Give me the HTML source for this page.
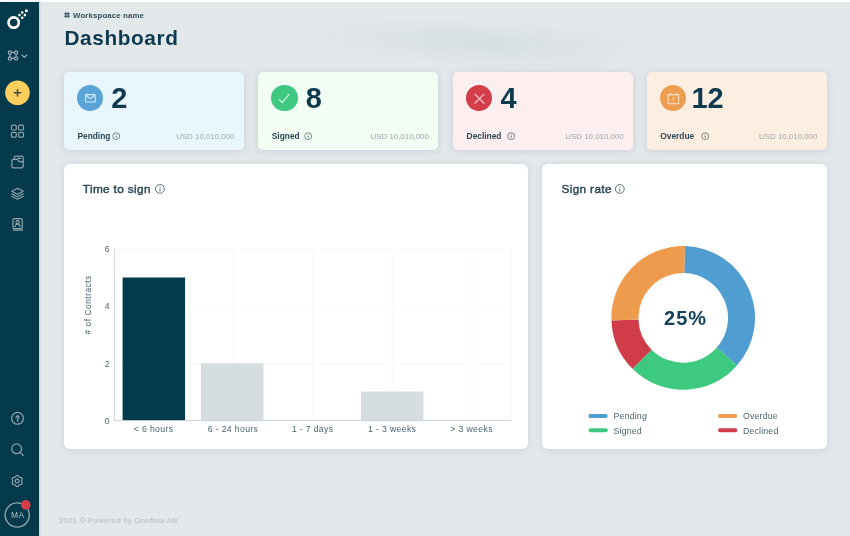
<!DOCTYPE html>
<html><head><meta charset="utf-8">
<style>
*{margin:0;padding:0;box-sizing:border-box}
html,body{width:850px;height:536px;overflow:hidden}
#wrap{position:absolute;left:0;top:0;width:850px;height:536px;filter:blur(0.45px)}
body{position:relative;background:#e3e8eb;font-family:"Liberation Sans",Arial,sans-serif;color:#0d3547}
.topw{position:absolute;left:0;top:0;width:850px;height:2px;background:#fff}
.bgblur{position:absolute;left:300px;top:18px;width:360px;height:50px;border-radius:50%;background:radial-gradient(ellipse at center,rgba(200,210,215,0.45),rgba(200,210,215,0) 70%);transform:rotate(3deg)}
.side{position:absolute;left:0;top:2px;width:38.6px;height:534px;background:#053a4c;box-shadow:1px 0 2px rgba(10,40,55,0.12)}
.side svg{position:absolute;left:0;top:0}
.abs{position:absolute;white-space:nowrap;z-index:2}
.ws{left:73px;top:10.8px;font-size:7.9px;font-weight:bold;color:#34505d;letter-spacing:0.1px}
.title{left:64.5px;top:25.5px;font-size:20.8px;font-weight:bold;color:#0e3a4e;letter-spacing:0.6px}
.card{position:absolute;top:72px;width:180px;height:78px;border-radius:5px;box-shadow:0 1px 8px rgba(20,50,65,0.13)}
.ic{position:absolute;left:12.7px;top:12.7px;width:26.6px;height:26.6px;border-radius:50%}
.ic svg{position:absolute;left:0;top:0}
.num{position:absolute;left:47.3px;top:11.3px;font-size:29px;font-weight:bold;color:#0e3a4f;line-height:30px;letter-spacing:0px}
.lab{position:absolute;left:13.4px;top:59.3px;font-size:8.4px;font-weight:bold;color:#2b4756;line-height:10px}
.info{position:absolute;top:60px;width:8.4px;height:8.4px}
.usd{position:absolute;right:9.5px;top:59.5px;font-size:7.9px;color:#9aa9b0;line-height:10px}
.panel{position:absolute;top:163.7px;height:285.4px;background:#fff;border-radius:6px;box-shadow:0 1px 8px rgba(20,50,65,0.10)}
.ptitle{position:absolute;top:18.6px;font-size:11.8px;color:#2b4958;font-weight:normal;-webkit-text-stroke:0.45px #2b4958;letter-spacing:0.35px;line-height:14px}
.foot{left:58.8px;top:515.6px;font-size:7.9px;color:#bdc7cc;letter-spacing:0.22px;-webkit-text-stroke:0.2px #bdc7cc}
</style></head><body>
<div id="wrap">
<div class="topw"></div>
<div class="bgblur"></div>

<div class="side">
<svg width="39" height="534" viewBox="0 2 39 534">
  <!-- logo -->
  <circle cx="13.7" cy="22.6" r="5.15" fill="none" stroke="#fff" stroke-width="2.7"/>
  <circle cx="22.2" cy="12.6" r="1.25" fill="#fff"/>
  <circle cx="19.5" cy="15.1" r="1.3" fill="#fff"/>
  <circle cx="24.9" cy="15.1" r="1.3" fill="#fff"/>
  <circle cx="22.2" cy="17.8" r="1.3" fill="#fff"/>
  <circle cx="26.4" cy="10.7" r="1.5" fill="#fff"/>
  <!-- workspace icon -->
  <g fill="none" stroke="#9fb1b8" stroke-width="1.2">
    <circle cx="9.9" cy="52.4" r="1.6"/><circle cx="16.1" cy="52.4" r="1.6"/>
    <circle cx="9.9" cy="58.4" r="1.6"/><circle cx="16.1" cy="58.4" r="1.6"/>
    <path d="M11.5 52.4H14.5M11.5 58.4H14.5M9.9 54V56.8M16.1 54V56.8"/>
    <path d="M21.6 54.6L24.3 57.4L27 54.6"/>
  </g>
  <!-- plus button -->
  <circle cx="17.5" cy="92.7" r="12.3" fill="#fdd05e"/>
  <path d="M17.5 89V96.4M13.8 92.7H21.2" stroke="#3a4a44" stroke-width="1.4"/>
  <g fill="none" stroke="#8fa2aa" stroke-width="1.2" stroke-linejoin="round" stroke-linecap="round">
  <!-- grid -->
  <rect x="11.4" y="125.1" width="4.9" height="4.9" rx="1.3"/>
  <rect x="18.6" y="125.1" width="4.9" height="4.9" rx="1.3"/>
  <rect x="11.4" y="132.3" width="4.9" height="4.9" rx="1.3"/>
  <rect x="18.6" y="132.3" width="4.9" height="4.9" rx="1.3"/>
  <!-- folder -->
  <path d="M14.4 159.4V157.4Q14.4 156.1 15.7 156.1H21.9Q23.2 156.1 23.2 157.4V161.8"/>
  <path d="M13.1 159.4H17.3L19.1 161.7H23.2V166.6Q23.2 167.8 22 167.8H13.1Q11.9 167.8 11.9 166.6V160.6Q11.9 159.4 13.1 159.4Z"/>
  <path d="M17.8 158.3H20.8"/>
  <!-- layers -->
  <path d="M17.5 188.2L23.2 191.2L17.5 194.2L11.8 191.2Z"/>
  <path d="M11.8 193.8L17.5 196.7L23.2 193.8"/>
  <path d="M11.8 196.3L17.5 199.2L23.2 196.3"/>
  <!-- contacts -->
  <rect x="12.9" y="218.6" width="9.4" height="10" rx="1.4"/>
  <circle cx="17.6" cy="222" r="1.6"/>
  <path d="M15.1 226.6Q15.5 224.2 17.6 224.2Q19.7 224.2 20.1 226.6"/>
  <path d="M13.4 230.2H22.6"/>
  <!-- help -->
  <circle cx="17.5" cy="418.3" r="5.9"/>
  <path d="M16.1 417.4Q16.1 416 17.5 416Q18.9 416 18.9 417.3Q18.9 418.2 17.6 418.8V421.2" stroke-width="1.3"/>
  <!-- search -->
  <circle cx="16.6" cy="448.8" r="4.9"/>
  <path d="M20.2 452.4L23.3 455.5"/>
  <!-- gear -->
  <path d="M17.20 475.45 L17.68 475.54 L18.12 475.81 L18.49 476.17 L18.82 476.56 L19.11 476.90 L19.42 477.15 L19.79 477.29 L20.24 477.38 L20.74 477.46 L21.24 477.61 L21.69 477.86 L22.01 478.23 L22.16 478.69 L22.16 479.20 L22.03 479.71 L21.85 480.18 L21.71 480.61 L21.65 481.00 L21.71 481.39 L21.85 481.82 L22.03 482.29 L22.16 482.80 L22.16 483.31 L22.01 483.77 L21.69 484.14 L21.24 484.39 L20.74 484.54 L20.24 484.62 L19.79 484.71 L19.43 484.85 L19.11 485.10 L18.82 485.44 L18.49 485.83 L18.12 486.19 L17.68 486.46 L17.20 486.55 L16.72 486.46 L16.28 486.19 L15.91 485.83 L15.58 485.44 L15.29 485.10 L14.97 484.85 L14.61 484.71 L14.16 484.62 L13.66 484.54 L13.16 484.39 L12.71 484.14 L12.39 483.77 L12.24 483.31 L12.24 482.80 L12.37 482.29 L12.55 481.82 L12.69 481.39 L12.75 481.00 L12.69 480.61 L12.55 480.18 L12.37 479.71 L12.24 479.20 L12.24 478.69 L12.39 478.23 L12.71 477.86 L13.16 477.61 L13.66 477.46 L14.16 477.38 L14.61 477.29 L14.98 477.15 L15.29 476.90 L15.58 476.56 L15.91 476.17 L16.28 475.81 L16.72 475.54 L17.20 475.45Z"/>
  <circle cx="17.2" cy="481.1" r="1.9"/>
  </g>
  <!-- avatar -->
  <circle cx="17.2" cy="515" r="12.1" fill="none" stroke="#93a6ae" stroke-width="1.35"/>
  <text x="17.8" y="518.1" font-family="Liberation Sans, Arial, sans-serif" font-size="8.4" letter-spacing="0.5" fill="#aebcc2" text-anchor="middle">MA</text>
  <circle cx="25.8" cy="504.8" r="4.8" fill="#d93c47"/>
</svg>
</div>

<div class="abs ws"><svg width="6" height="6" viewBox="0 0 6 6" style="position:absolute;left:-9.2px;top:1.6px"><path d="M1.8 0.2V5.8M4.2 0.2V5.8M0.2 1.8H5.8M0.2 4.2H5.8" stroke="#2e4b59" stroke-width="1.1" fill="none"/></svg>Workspoace name</div>
<div class="abs title">Dashboard</div>

<!-- Cards -->
<div class="card" style="left:64px;background:#e9f6fd">
  <div class="ic" style="background:#5aa3d6"><svg width="27" height="27" viewBox="0 0 27 27"><rect x="8.6" y="9.6" width="9.6" height="7.4" rx="0.8" fill="none" stroke="#d8ecf8" stroke-width="1.1"/><path d="M8.9 10.2L13.4 13.6L17.9 10.2" fill="none" stroke="#d8ecf8" stroke-width="1.1"/></svg></div>
  <div class="num">2</div>
  <div class="lab">Pending</div>
  <svg class="info" style="left:47.5px" viewBox="0 0 9 9"><circle cx="4.5" cy="4.5" r="3.7" fill="none" stroke="#4d6571" stroke-width="0.8"/><path d="M4.5 3.9V6.5" stroke="#4d6571" stroke-width="0.9"/><circle cx="4.5" cy="2.7" r="0.5" fill="#4d6571"/></svg>
  <div class="usd">USD 10,010,000</div>
</div>
<div class="card" style="left:258.4px;background:#f2fdf4">
  <div class="ic" style="background:#3ec880"><svg width="27" height="27" viewBox="0 0 27 27"><path d="M8.3 14.4L11.2 17.6L18.3 9.2" fill="none" stroke="#d9f4e4" stroke-width="1.2"/></svg></div>
  <div class="num">8</div>
  <div class="lab">Signed</div>
  <svg class="info" style="left:45.9px" viewBox="0 0 9 9"><circle cx="4.5" cy="4.5" r="3.7" fill="none" stroke="#4d6571" stroke-width="0.8"/><path d="M4.5 3.9V6.5" stroke="#4d6571" stroke-width="0.9"/><circle cx="4.5" cy="2.7" r="0.5" fill="#4d6571"/></svg>
  <div class="usd">USD 10,010,000</div>
</div>
<div class="card" style="left:453.2px;background:#fdeeef">
  <div class="ic" style="background:#d43d4b"><svg width="27" height="27" viewBox="0 0 27 27"><path d="M8.6 8.8L18.3 18.5M18.3 8.8L8.6 18.5" fill="none" stroke="#f3c9cd" stroke-width="1.2"/></svg></div>
  <div class="num">4</div>
  <div class="lab">Declined</div>
  <svg class="info" style="left:54.3px" viewBox="0 0 9 9"><circle cx="4.5" cy="4.5" r="3.7" fill="none" stroke="#4d6571" stroke-width="0.8"/><path d="M4.5 3.9V6.5" stroke="#4d6571" stroke-width="0.9"/><circle cx="4.5" cy="2.7" r="0.5" fill="#4d6571"/></svg>
  <div class="usd">USD 10,010,000</div>
</div>
<div class="card" style="left:646.9px;background:#fdeee2">
  <div class="ic" style="background:#ee9e52"><svg width="27" height="27" viewBox="0 0 27 27"><rect x="8.1" y="9.6" width="10.6" height="9.1" rx="0.4" fill="none" stroke="#fbdcc0" stroke-width="1.1"/><path d="M10.6 8.1V10.6M16.2 8.1V10.6M13.4 12.5V15.1" fill="none" stroke="#fbdcc0" stroke-width="1.1"/><circle cx="13.4" cy="16.6" r="0.55" fill="#fbdcc0"/></svg></div>
  <div class="num" style="left:44.5px">12</div>
  <div class="lab">Overdue</div>
  <svg class="info" style="left:54.4px" viewBox="0 0 9 9"><circle cx="4.5" cy="4.5" r="3.7" fill="none" stroke="#4d6571" stroke-width="0.8"/><path d="M4.5 3.9V6.5" stroke="#4d6571" stroke-width="0.9"/><circle cx="4.5" cy="2.7" r="0.5" fill="#4d6571"/></svg>
  <div class="usd">USD 10,010,000</div>
</div>

<!-- Left panel: bar chart -->
<div class="panel" style="left:64px;width:463.5px">
  <div class="ptitle" style="left:18.8px">Time to sign</div>
</div>
<svg class="abs" style="left:0;top:0" width="850" height="536" viewBox="0 0 850 536">
  <!-- info icons panel titles -->
  <g fill="none" stroke="#4d6571" stroke-width="0.9">
    <circle cx="159.9" cy="188.9" r="4.4"/>
    <circle cx="619.8" cy="188.9" r="4.4"/>
  </g>
  <path d="M160 188.6V191.6M619.8 188.6V191.6" stroke="#4d6571" stroke-width="1"/>
  <circle cx="160" cy="187.1" r="0.55" fill="#4d6571"/>
  <circle cx="619.8" cy="187.1" r="0.55" fill="#4d6571"/>
  <!-- gridlines -->
  <g stroke="#eceff1" stroke-width="0.8" stroke-dasharray="1.2 0.8">
    <path d="M114.5 249H511.5M114.5 306H511.5M114.5 363.2H511.5"/>
    <path d="M233.3 249V420M312.8 249V420M392.3 249V420M471.8 249V420M511.5 249V420"/>
  </g>
  <!-- bars -->
  <rect x="122.6" y="277.5" width="62.5" height="143" fill="#033a4e"/>
  <rect x="200.9" y="363.3" width="62.6" height="57.1" fill="#d6dde0"/>
  <rect x="361" y="391.5" width="62.4" height="28.9" fill="#d6dde0"/>
  <!-- axes -->
  <path d="M114.4 248.6V420.6M114 420.6H511.5" stroke="#c5d0d5" stroke-width="0.9"/>
  <g font-family="Liberation Sans, Arial, sans-serif" font-size="7.6" fill="#4a6370">
    <text x="109.6" y="252.4" text-anchor="end" font-size="8.6">6</text>
    <text x="109.6" y="309.2" text-anchor="end" font-size="8.6">4</text>
    <text x="109.6" y="366.5" text-anchor="end" font-size="8.6">2</text>
    <text x="109.6" y="423.8" text-anchor="end" font-size="8.6">0</text>
    <text x="153.6" y="432.3" text-anchor="middle" font-size="8.7" letter-spacing="0.35">&lt; 6 hours</text>
    <text x="233" y="432.3" text-anchor="middle" font-size="8.7" letter-spacing="0.35">6 - 24 hours</text>
    <text x="312.6" y="432.3" text-anchor="middle" font-size="8.7" letter-spacing="0.35">1 - 7 days</text>
    <text x="392.2" y="432.3" text-anchor="middle" font-size="8.7" letter-spacing="0.35">1 - 3 weeks</text>
    <text x="471.6" y="432.3" text-anchor="middle" font-size="8.7" letter-spacing="0.35">&gt; 3 weeks</text>
    <text transform="translate(90.6 304.8) rotate(-90)" text-anchor="middle" font-size="8.3" letter-spacing="0.55">#  of Contracts</text>
  </g>
</svg>

<!-- Right panel: donut -->
<div class="panel" style="left:542.3px;width:284.4px">
  <div class="ptitle" style="left:19.2px">Sign rate</div>
</div>
<svg class="abs" style="left:0;top:0" width="850" height="536" viewBox="0 0 850 536" id="donut">
<path d="M684.95 246.12A71.8 71.8 0 0 1 736.98 365.48L716.75 347.59A44.8 44.8 0 0 0 684.29 273.11Z" fill="#4f9dd1"/>
<path d="M736.98 365.48A71.8 71.8 0 0 1 632.52 368.76L651.58 349.63A44.8 44.8 0 0 0 716.75 347.59Z" fill="#3ec981"/>
<path d="M632.52 368.76A71.8 71.8 0 0 1 611.44 320.41L638.43 319.46A44.8 44.8 0 0 0 651.58 349.63Z" fill="#d03c4a"/>
<path d="M611.44 320.41A71.8 71.8 0 0 1 684.95 246.12L684.29 273.11A44.8 44.8 0 0 0 638.43 319.46Z" fill="#ee9b4d"/>
<text x="685.6" y="325.4" text-anchor="middle" font-family="Liberation Sans, Arial, sans-serif" font-weight="bold" font-size="20" letter-spacing="1.1" fill="#13405a">25%</text>
<g stroke-width="4" stroke-linecap="round">
<path d="M590.5 416H605.7" stroke="#4f9dd2"/>
<path d="M590.5 430.3H605.7" stroke="#3ec97f"/>
<path d="M720 416H735.3" stroke="#ef9b4d"/>
<path d="M720 430.3H735.3" stroke="#d13c4a"/>
</g>
<g font-family="Liberation Sans, Arial, sans-serif" font-size="8.8" fill="#4b6470" letter-spacing="0.15">
<text x="613.6" y="419.2">Pending</text>
<text x="613.6" y="433.5">Signed</text>
<text x="743" y="419.2">Overdue</text>
<text x="743" y="433.5">Declined</text>
</g>
</svg>

<div class="abs foot">2021 © Powered by Oneflow AB</div>
</div>
</body></html>
